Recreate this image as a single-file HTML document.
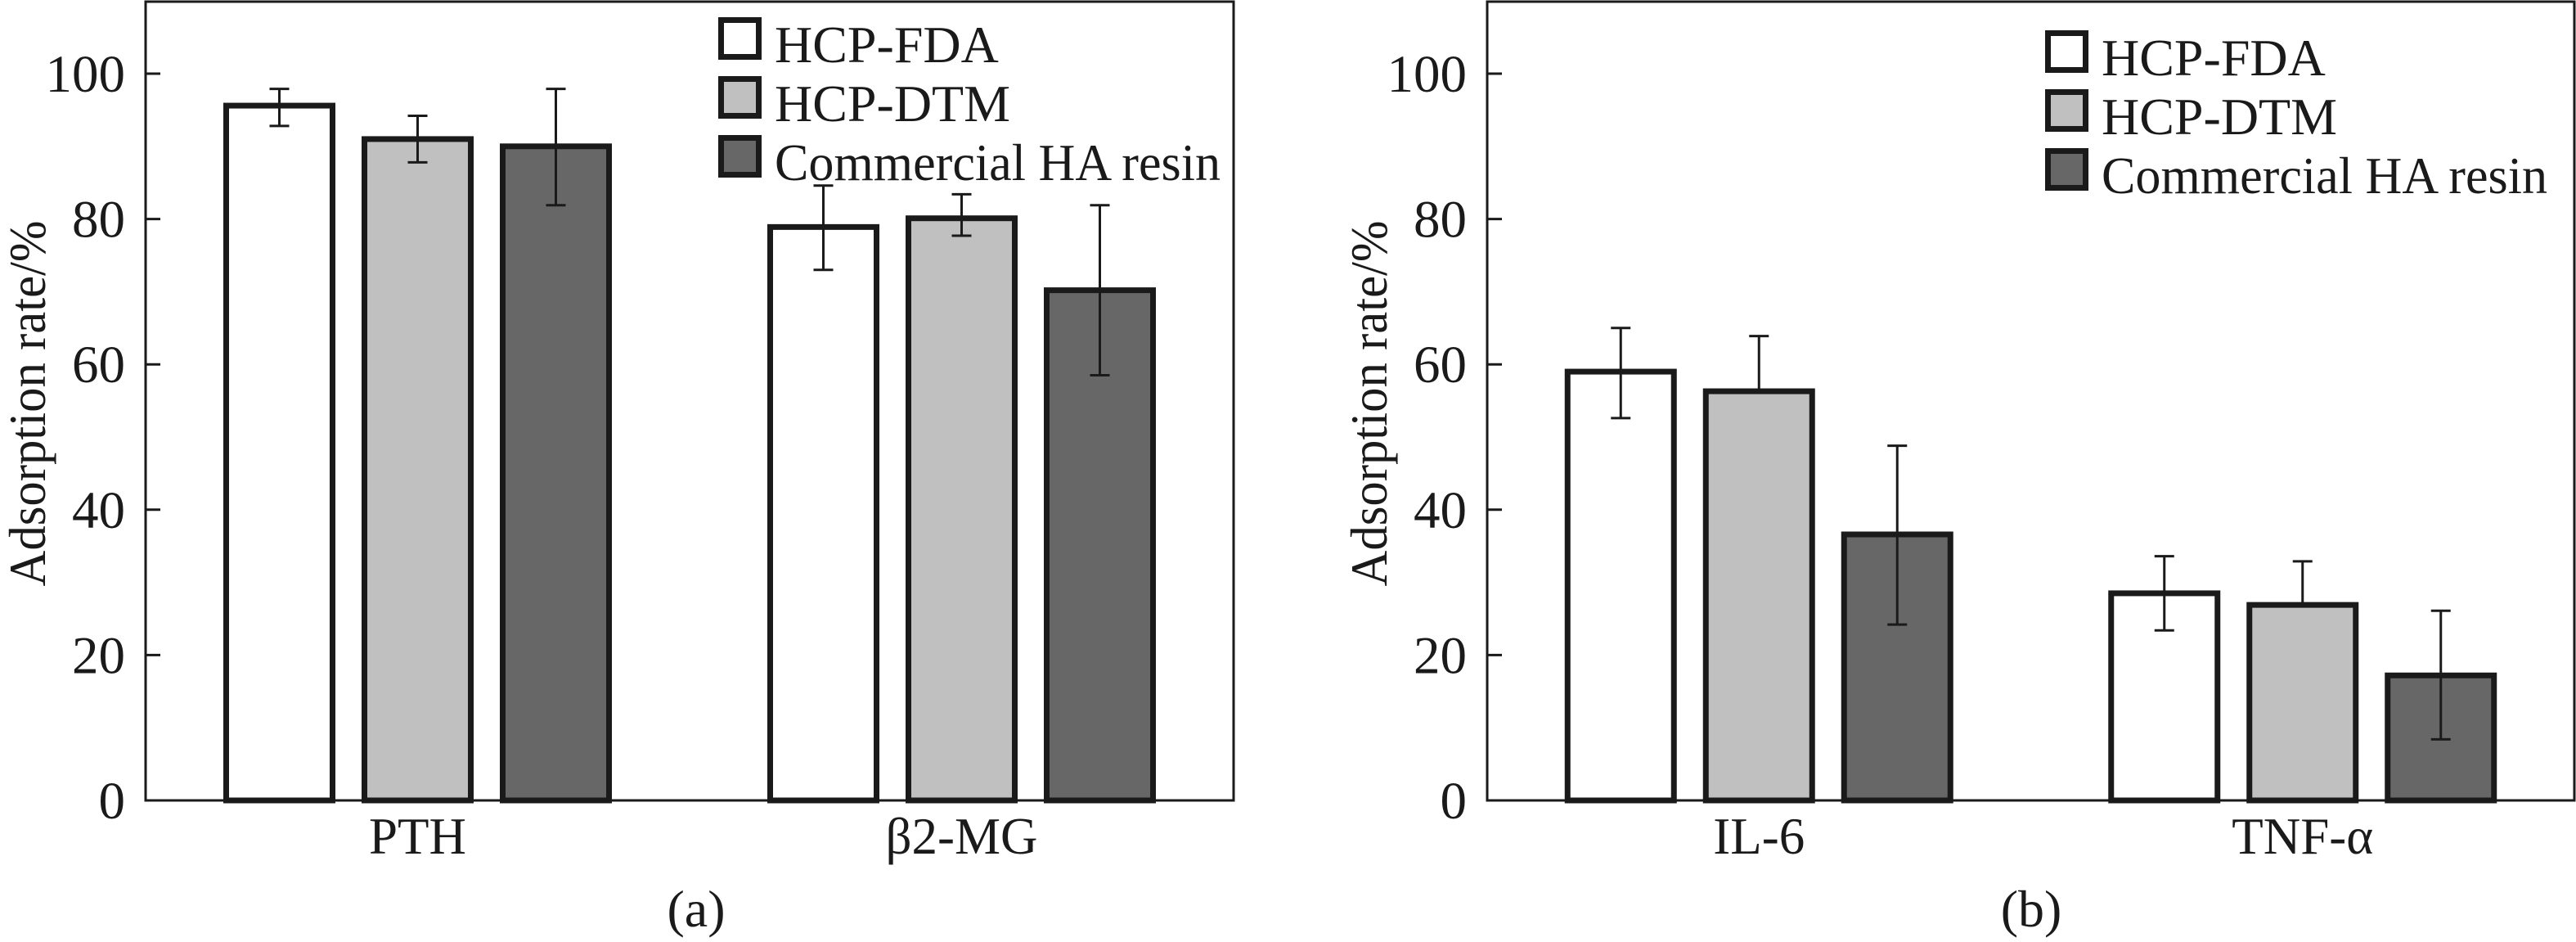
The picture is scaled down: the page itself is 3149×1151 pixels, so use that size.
<!DOCTYPE html>
<html><head><meta charset="utf-8">
<style>
html,body{margin:0;padding:0;background:#fff;}
svg{display:block;}
text{font-family:"Liberation Serif",serif;fill:#1a1a1a;}
</style></head>
<body>
<svg id="fig" width="3149" height="1151" viewBox="0 0 3149 1151" xmlns="http://www.w3.org/2000/svg"></svg>
<script>
// Panel (a) data
const catsA = ["PTH", "β2-MG"];
const fdaA = [95.6, 78.9];
const fdaLoA = [92.8, 73.0];
const fdaHiA = [97.9, 84.6];
const dtmA = [91.0, 80.1];
const dtmLoA = [87.8, 77.7];
const dtmHiA = [94.2, 83.4];
const haA = [90.0, 70.2];
const haLoA = [81.9, 58.5];
const haHiA = [97.9, 81.9];
// Panel (b) data
const catsB = ["IL-6", "TNF-α"];
const fdaB = [59.0, 28.5];
const fdaLoB = [52.6, 23.4];
const fdaHiB = [65.0, 33.6];
const dtmB = [56.3, 26.9];
const dtmLoB = [56.3, 26.9];
const dtmHiB = [63.9, 32.9];
const haB = [36.6, 17.2];
const haLoB = [24.2, 8.4];
const haHiB = [48.8, 26.1];
const yTicks = [0, 20, 40, 60, 80, 100];
const seriesNames = ["HCP-FDA", "HCP-DTM", "Commercial HA resin"];
const fills = ["#ffffff", "#c0c0c0", "#676767"];

const NS = "http://www.w3.org/2000/svg";
const svg = document.getElementById("fig");
function mk(tag, attrs, parent) {
  const e = document.createElementNS(NS, tag);
  for (const k in attrs) e.setAttribute(k, attrs[k]);
  (parent || svg).appendChild(e);
  return e;
}

function panel(cfg) {
  const g = mk("g", {});
  
  
  const x0 = cfg.left, x1 = cfg.right, yBase = 978, yTop = 2;
  const yScale = v => yBase - v * 8.88;
  const catX = i => x0 + (x1 - x0) * (0.25 + 0.5 * i);
  const pitch = 169, bw = 130;

  // bars
  const vals = [cfg.fda, cfg.dtm, cfg.ha];
  const los = [cfg.fdaLo, cfg.dtmLo, cfg.haLo];
  const his = [cfg.fdaHi, cfg.dtmHi, cfg.haHi];
  for (let s = 0; s < 3; s++) {
    for (let i = 0; i < cfg.cats.length; i++) {
      const cx = catX(i) + (s - 1) * pitch;
      const y = yScale(vals[s][i]);
      const r = mk("rect", {x: cx - bw / 2, y: y, width: bw, height: yBase - y, fill: fills[s], stroke: "#1a1a1a", "stroke-width": 7}, g);
      
      
    }
  }
  // error bars
  for (let s = 0; s < 3; s++) {
    for (let i = 0; i < cfg.cats.length; i++) {
      const cx = catX(i) + (s - 1) * pitch;
      const eg = mk("g", {stroke: "#1a1a1a", "stroke-width": 3}, g);
      
      
      const yl = yScale(los[s][i]), yh = yScale(his[s][i]);
      mk("line", {x1: cx, x2: cx, y1: yl, y2: yh}, eg);
      mk("line", {x1: cx - 12, x2: cx + 12, y1: yh, y2: yh}, eg);
      if (los[s][i] < vals[s][i]) mk("line", {x1: cx - 12, x2: cx + 12, y1: yl, y2: yl}, eg);
    }
  }
  // frame
  const fr = mk("rect", {x: x0, y: yTop, width: x1 - x0, height: yBase - yTop, fill: "none", stroke: "#1a1a1a", "stroke-width": 3}, g);
  
  
  // ticks
  yTicks.forEach(t => {
    const y = yScale(t);
    mk("line", {x1: x0, x2: x0 + 18, y1: y, y2: y, stroke: "#1a1a1a", "stroke-width": 3}, g);
    const tl = mk("text", {x: x0 - 25, y: y + 22, "font-size": 65, "text-anchor": "end"}, g);
    tl.textContent = t;
    
    
  });
  // category labels
  cfg.cats.forEach((c, i) => {
    const tx = mk("text", {x: catX(i), y: 1043, "font-size": 63, "text-anchor": "middle"}, g);
    tx.textContent = c;
    
    
  });
  // y title
  const yt = mk("text", {x: 0, y: 0, "font-size": 64, "text-anchor": "middle", transform: "translate(" + (cfg.titleX) + ",493) rotate(-90)", textLength: 447, lengthAdjust: "spacingAndGlyphs"}, g);
  yt.textContent = "Adsorption rate/%";
  
  
  // panel label
  const pl = mk("text", {x: cfg.labelX, y: 1132, "font-size": 64, "text-anchor": "middle"}, g);
  pl.textContent = cfg.label;
  
  
  // legend
  const lg = mk("g", {}, g);
  
  
  seriesNames.forEach((n, s) => {
    const y = cfg.legY + s * 72;
    const e = mk("g", {}, lg);
    
    
    mk("rect", {x: cfg.legX + 3.5, y: y + 3.5, width: 46, height: 45, fill: fills[s], stroke: "#1a1a1a", "stroke-width": 7}, e);
    const t = mk("text", {x: cfg.legX + 69, y: y + 55, "font-size": 64}, e);
    if (s === 2) { t.setAttribute("textLength", 545); t.setAttribute("lengthAdjust", "spacingAndGlyphs"); }
    t.textContent = n;
  });
}

panel({key: "panel-a", left: 178, right: 1508, cats: catsA, fda: fdaA, fdaLo: fdaLoA, fdaHi: fdaHiA,
  dtm: dtmA, dtmLo: dtmLoA, dtmHi: dtmHiA, ha: haA, haLo: haLoA, haHi: haHiA,
  titleX: 55, labelX: 851, label: "(a)", legX: 878, legY: 21});
panel({key: "panel-b", left: 1818, right: 3147, cats: catsB, fda: fdaB, fdaLo: fdaLoB, fdaHi: fdaHiB,
  dtm: dtmB, dtmLo: dtmLoB, dtmHi: dtmHiB, ha: haB, haLo: haLoB, haHi: haHiB,
  titleX: 1695, labelX: 2483, label: "(b)", legX: 2500, legY: 37});
</script>
</body></html>
